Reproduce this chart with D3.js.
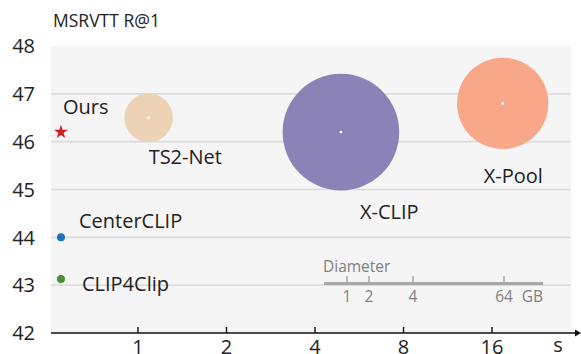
<!DOCTYPE html>
<html><head><meta charset="utf-8">
<script src="https://cdn.jsdelivr.net/npm/d3@7"></script>
<style>body{margin:0;background:#fff}svg{display:block}text{font-family:"Open Sans",Lato,sans-serif}</style>
</head><body><svg id="c" width="581" height="354"></svg>
<script>
// ---- data ----
const methods = ["Ours","CenterCLIP","CLIP4Clip","TS2-Net","X-CLIP","X-Pool"];
const timeSec = [0.547, 0.547, 0.547, 1.087, 4.9, 17.4];
const r1 = [46.2, 44.0, 43.13, 46.5, 46.2, 46.8];
const memGB = [0, 0, 0, 10, 24, 18.8];
const colors = ["#D0202A","#1F6FBF","#4E8A3A","#EDD3B6","#8B83B7","#F8A788"];
const xTicks = [1,2,4,8,16];
const yTicks = [42,43,44,45,46,47,48];
const legendTicks = [1,2,4,64];

const svg = d3.select("#c");
const pL=51, pR=571, pT=46, pB=333;
const x = d3.scaleLog().base(2).domain([0.506, 29.7]).range([pL,pR]);
const y = d3.scaleLinear().domain([42,48]).range([pB,pT]);
const rScale = d3.scaleLinear().domain([0,24]).range([0,58.3]);

svg.append("rect").attr("x",pL).attr("y",pT).attr("width",pR-pL).attr("height",pB-pT).attr("fill","#F5F5F5");
svg.append("g").selectAll("line").data(yTicks.filter(d=>d>42&&d<48)).join("line")
  .attr("x1",pL).attr("x2",pR).attr("y1",d=>y(d)).attr("y2",d=>y(d))
  .attr("stroke","#DCDCDC").attr("stroke-width",1.6);

// y tick labels
svg.append("g").selectAll("text").data(yTicks).join("text")
  .attr("x",35).attr("y",d=>y(d)).attr("dy","0.36em").attr("text-anchor","end")
  .attr("font-size",20).attr("fill","#222").text(d=>d);
svg.append("text").attr("x",53).attr("y",27).attr("font-size",17.5).attr("fill","#222").text("MSRVTT R@1");

// x axis
svg.append("line").attr("x1",pL).attr("x2",577).attr("y1",pB).attr("y2",pB).attr("stroke","#111").attr("stroke-width",1.4);
svg.append("path").attr("d",`M581,${pB} l-6,-3.5 l0,7 z`).attr("fill","#111");
svg.append("g").selectAll("line").data(xTicks).join("line")
  .attr("x1",d=>x(d)).attr("x2",d=>x(d)).attr("y1",pB-6).attr("y2",pB)
  .attr("stroke","#111").attr("stroke-width",1.4);
svg.append("g").selectAll("text").data(xTicks).join("text")
  .attr("x",d=>x(d)).attr("y",354).attr("text-anchor","middle")
  .attr("font-size",20).attr("fill","#222").text(d=>d);
svg.append("text").attr("x",558).attr("y",352).attr("text-anchor","middle").attr("font-size",20).attr("fill","#222").text("s");

// bubbles
const idx = d3.range(methods.length);
const bub = idx.filter(i=>memGB[i]>0);
svg.append("g").selectAll("circle").data(bub).join("circle")
  .attr("cx",i=>x(timeSec[i])).attr("cy",i=>y(r1[i])).attr("r",i=>rScale(memGB[i]))
  .attr("fill",i=>colors[i]);
svg.append("g").selectAll("circle").data(bub).join("circle")
  .attr("cx",i=>x(timeSec[i])).attr("cy",i=>y(r1[i])).attr("r",1.4).attr("fill","#fff");
// small dots
svg.append("g").selectAll("circle").data([1,2]).join("circle")
  .attr("cx",i=>x(timeSec[i])).attr("cy",i=>y(r1[i])).attr("r",4).attr("fill",i=>colors[i]);
// star
svg.append("path").attr("d",d3.symbol(d3.symbolStar,60)())
  .attr("transform",`translate(${x(timeSec[0])},${y(r1[0])})`).attr("fill",colors[0]);

// labels
const labelOff = {"Ours":[2,-25],"CenterCLIP":[18,-16.5],"CLIP4Clip":[21,5],"TS2-Net":[0,39],"X-CLIP":[19,79.5],"X-Pool":[-19,72]};
svg.append("g").selectAll("text").data(idx).join("text")
  .attr("x",i=>x(timeSec[i])+labelOff[methods[i]][0]).attr("y",i=>y(r1[i])+labelOff[methods[i]][1])
  .attr("dy","0.36em").attr("font-size",20).attr("fill","#222").text(i=>methods[i]);

// diameter legend
const lg = d3.scaleLinear().domain([1,2,4,64]).range([347,369,413,504]);
svg.append("line").attr("x1",324).attr("x2",543).attr("y1",283.5).attr("y2",283.5).attr("stroke","#A8A8A8").attr("stroke-width",3);
svg.append("g").selectAll("line").data(legendTicks).join("line")
  .attr("x1",d=>lg(d)).attr("x2",d=>lg(d)).attr("y1",276).attr("y2",283).attr("stroke","#A8A8A8").attr("stroke-width",1.5);
svg.append("g").selectAll("text").data(legendTicks).join("text")
  .attr("x",d=>lg(d)).attr("y",296).attr("dy","0.36em").attr("text-anchor","middle")
  .attr("font-size",15.5).attr("fill","#808080").text(d=>d);
svg.append("text").attr("x",543).attr("y",296).attr("dy","0.36em").attr("text-anchor","end").attr("font-size",15.5).attr("fill","#808080").text("GB");
svg.append("text").attr("x",323).attr("y",266).attr("dy","0.36em").attr("font-size",15.5).attr("fill","#808080").text("Diameter");
</script></body></html>
